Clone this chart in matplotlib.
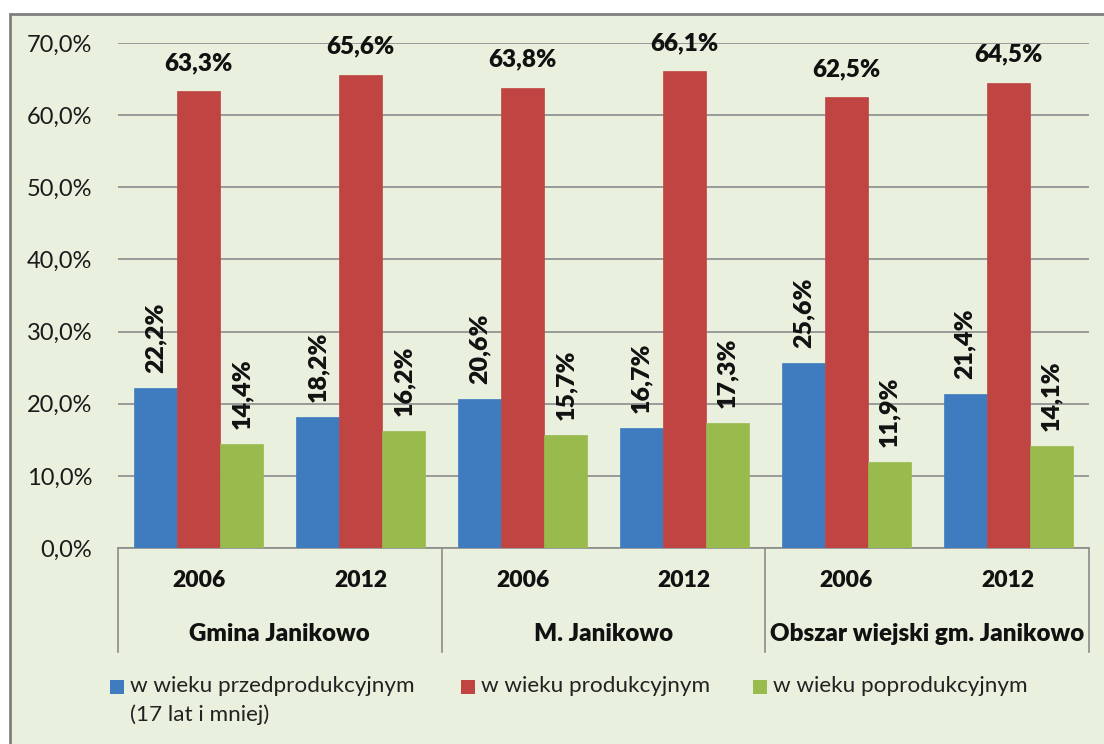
import matplotlib
matplotlib.use("Agg")
import matplotlib.pyplot as plt
from matplotlib.patches import Rectangle
import numpy as np

plt.rcParams['font.family'] = ['Lato', 'DejaVu Sans']

years = ["2006", "2012", "2006", "2012", "2006", "2012"]
groups = ["Gmina Janikowo", "M. Janikowo", "Obszar wiejski gm. Janikowo"]
series_names = ["w wieku przedprodukcyjnym\n(17 lat i mniej)",
                "w wieku produkcyjnym",
                "w wieku poprodukcyjnym"]
pre = [22.2, 18.2, 20.6, 16.7, 25.6, 21.4]
prod = [63.3, 65.6, 63.8, 66.1, 62.5, 64.5]
post = [14.4, 16.2, 15.7, 17.3, 11.9, 14.1]
yticks = [0, 10, 20, 30, 40, 50, 60, 70]

colors = ["#3F7CBF", "#BF4442", "#99BA4C"]
bg = "#EAF0DE"
W, H = 1104, 744

fig = plt.figure(figsize=(W / 100, H / 100), dpi=100, facecolor="white")
# chart frame
fig.patches.append(Rectangle((10 / W, -0.1), 1.2, 1 - 14 / H + 0.1,
                             transform=fig.transFigure, facecolor=bg,
                             edgecolor="#7F7F7F", linewidth=2, zorder=-5))

ax = fig.add_axes([118 / W, 1 - 548 / H, (1089 - 118) / W, (548 - 43) / H])
ax.set_facecolor("none")
ax.set_zorder(2)

x = np.arange(len(years))
w = 0.266
series = [pre, prod, post]
for i, (vals, c) in enumerate(zip(series, colors)):
    bars = ax.bar(x + (i - 1) * w, vals, width=w, color=c, edgecolor=c,
                  linewidth=0.5, zorder=3)
    for b, v in zip(bars, vals):
        lbl = f"{v:.1f}%".replace(".", ",")
        if i == 1:
            ax.annotate(lbl, (b.get_x() + b.get_width() / 2, v),
                        xytext=(0, 17), textcoords="offset pixels",
                        ha="center", va="bottom", fontsize=17.5,
                        fontweight="heavy", color="#111111")
        else:
            ax.annotate(lbl, (b.get_x() + b.get_width() / 2, v),
                        xytext=(0, 15), textcoords="offset pixels",
                        ha="center", va="bottom", rotation=90, fontsize=18,
                        fontweight="heavy", color="#111111")

ax.set_xlim(-0.5, len(years) - 0.5)
ax.set_ylim(0, 70)
ax.set_yticks(yticks)
ax.set_yticklabels([f"{t:.1f}%".replace(".", ",") for t in yticks],
                   fontsize=17, color="#1a1a1a")
ax.tick_params(axis="y", length=0, pad=18.5)
ax.grid(axis="y", color="#8C8C8C", linewidth=1.2, zorder=0)
ax.set_axisbelow(True)
for s in ["top", "right", "left"]:
    ax.spines[s].set_visible(False)
ax.spines["bottom"].set_color("#8C8C8C")
ax.spines["bottom"].set_linewidth(1.2)

ax.set_xticks(x)
ax.set_xticklabels(years, fontsize=16.5, fontweight="heavy", color="#111111")
ax.tick_params(axis="x", length=0, pad=16)

# hierarchical axis separators and group labels
sep_depth = (652 - 548) / (548 - 43)
trans = ax.get_xaxis_transform()
for xs in [-0.5, 1.5, 3.5, 5.5]:
    ax.plot([xs, xs], [0, -sep_depth], transform=trans, color="#8C8C8C",
            linewidth=1.2, clip_on=False)
grp_y = -(634 - 548) / (548 - 43)
for gi, g in enumerate(groups):
    ax.text(2 * gi + 0.5, grp_y, g, transform=trans, ha="center",
            va="center", fontsize=17.4, fontweight="heavy", color="#111111")

# legend
lx = [110, 461, 753]
for i, (name, c) in enumerate(zip(series_names, colors)):
    fig.patches.append(Rectangle((lx[i] / W, 1 - 694 / H), 14 / W, 14 / H,
                                 transform=fig.transFigure, facecolor=c,
                                 edgecolor="none"))
    fig.text((lx[i] + 20) / W, 1 - 676 / H, name, ha="left", va="top",
             fontsize=16.2, color="#222222", linespacing=1.5,
             transform=fig.transFigure)

fig.savefig("out.png", dpi=100, facecolor="white")
